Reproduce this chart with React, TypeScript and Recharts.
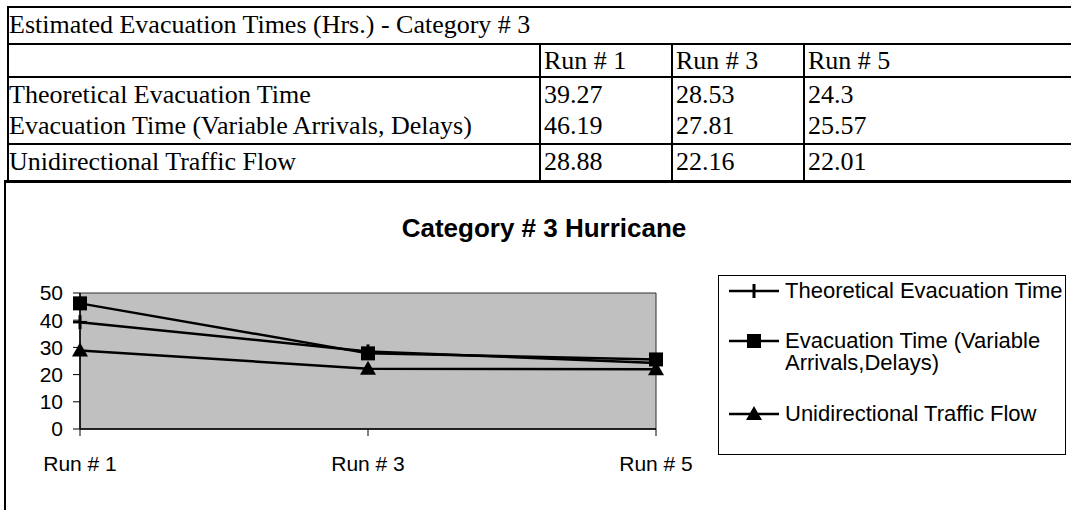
import React from "react";
import { LineChart, Line, XAxis, YAxis, ReferenceArea } from "recharts";

const runs = ["Run # 1", "Run # 3", "Run # 5"];
const theoretical = [39.27, 28.53, 24.3];
const variable = [46.19, 27.81, 25.57];
const unidirectional = [28.88, 22.16, 22.01];
const seriesNames = [
  "Theoretical Evacuation Time",
  "Evacuation Time (Variable Arrivals, Delays)",
  "Unidirectional Traffic Flow",
];
const legendNames = [
  "Theoretical Evacuation Time",
  "Evacuation Time (Variable Arrivals,Delays)",
  "Unidirectional Traffic Flow",
];
const tableTitle = "Estimated Evacuation Times (Hrs.) - Category # 3";
const chartTitle = "Category # 3 Hurricane";
const yTicks = [0, 10, 20, 30, 40, 50];

const data = runs.map((r, i) => ({
  run: r,
  theoretical: theoretical[i],
  variable: variable[i],
  unidirectional: unidirectional[i],
}));

const tableRows = [
  { name: seriesNames[0], vals: theoretical },
  { name: seriesNames[1], vals: variable },
  { name: seriesNames[2], vals: unidirectional },
];

const SERIF = "'Liberation Serif', 'Times New Roman', serif";
const SANS = "'Liberation Sans', Arial, sans-serif";

const PlusDot = (p: any) => {
  const { cx, cy } = p;
  if (cx == null || cy == null) return null;
  return (
    <g>
      <line x1={cx - 7} y1={cy} x2={cx + 7} y2={cy} stroke="#000" strokeWidth={2.5} />
      <line x1={cx} y1={cy - 7} x2={cx} y2={cy + 7} stroke="#000" strokeWidth={3} />
    </g>
  );
};
const SquareDot = (p: any) => {
  const { cx, cy } = p;
  if (cx == null || cy == null) return null;
  return <rect x={cx - 7} y={cy - 7} width={14} height={14} fill="#000" />;
};
const TriangleDot = (p: any) => {
  const { cx, cy } = p;
  if (cx == null || cy == null) return null;
  return (
    <polygon
      points={`${cx},${cy - 8} ${cx + 8},${cy + 6} ${cx - 8},${cy + 6}`}
      fill="#000"
    />
  );
};

const hLine = (top: number, left: number, width: number, h: number) => (
  <div style={{ position: "absolute", top, left, width, height: h, background: "#000" }} />
);
const vLine = (left: number, top: number, height: number, w: number) => (
  <div style={{ position: "absolute", top, left, width: w, height, background: "#000" }} />
);

const cellText = (text: string, left: number, centerY: number) => (
  <div
    style={{
      position: "absolute",
      left,
      top: centerY - 15,
      height: 30,
      lineHeight: "30px",
      fontFamily: SERIF,
      fontSize: 26,
      color: "#000",
      whiteSpace: "nowrap",
    }}
  >
    {text}
  </div>
);

const LegendMarker = ({ kind }: { kind: number }) => (
  <svg width={54} height={20} style={{ position: "absolute", left: 0, top: 1 }}>
    <line x1={2} y1={10} x2={52} y2={10} stroke="#000" strokeWidth={2.5} />
    {kind === 0 && <line x1={27} y1={3} x2={27} y2={17} stroke="#000" strokeWidth={3} />}
    {kind === 1 && <rect x={20} y={3} width={14} height={14} fill="#000" />}
    {kind === 2 && <polygon points="27,2 35,16 19,16" fill="#000" />}
  </svg>
);

export default function App() {
  const rowCenters = [61, 95, 126, 162];
  const colLeft = [544, 676, 808];
  return (
    <div
      style={{
        position: "absolute",
        left: 0,
        top: 0,
        width: 1071,
        height: 510,
        background: "#fff",
        overflow: "hidden",
      }}
    >
      {/* table grid */}
      {hLine(6, 7, 1064, 2)}
      {vLine(7, 6, 176, 2)}
      {hLine(43, 7, 1064, 2)}
      {hLine(76, 7, 1064, 2)}
      {hLine(143, 7, 1064, 2)}
      {hLine(180, 5, 1066, 3)}
      {vLine(539, 43, 138, 2)}
      {vLine(671, 43, 138, 2)}
      {vLine(803, 43, 138, 2)}
      {vLine(4, 180, 330, 2)}

      {cellText(tableTitle, 9, 25)}
      {runs.map((r, i) => (
        <React.Fragment key={r}>{cellText(r, colLeft[i], rowCenters[0])}</React.Fragment>
      ))}
      {tableRows.map((row, ri) => (
        <React.Fragment key={row.name}>
          {cellText(row.name, 9, rowCenters[ri + 1])}
          {row.vals.map((v, ci) => (
            <React.Fragment key={ci}>{cellText(String(v), colLeft[ci], rowCenters[ri + 1])}</React.Fragment>
          ))}
        </React.Fragment>
      ))}

      {/* chart title */}
      <div
        style={{
          position: "absolute",
          left: 300,
          width: 488,
          top: 213,
          textAlign: "center",
          fontFamily: SANS,
          fontWeight: "bold",
          fontSize: 26,
          lineHeight: "30px",
          color: "#000",
        }}
      >
        {chartTitle}
      </div>

      {/* chart */}
      <div style={{ position: "absolute", left: 0, top: 182 }}>
        <LineChart
          width={1071}
          height={328}
          data={data}
          margin={{ top: 111, right: 415, bottom: 21, left: 0 }}
        >
          <ReferenceArea
            x1={runs[0]}
            x2={runs[2]}
            y1={0}
            y2={50}
            fill="#C0C0C0"
            fillOpacity={1}
            stroke="#303030"
            strokeWidth={1}
          />
          <XAxis
            dataKey="run"
            interval={0}
            height={60}
            tickSize={7}
            tickMargin={20}
            axisLine={{ stroke: "#000", strokeWidth: 1.5 }}
            tickLine={{ stroke: "#000", strokeWidth: 1 }}
            tick={{ fill: "#000", fontSize: 21, fontFamily: SANS }}
          />
          <YAxis
            domain={[0, 50]}
            ticks={yTicks}
            interval={0}
            width={80}
            tickSize={7}
            tickMargin={10}
            axisLine={{ stroke: "#000", strokeWidth: 1.5 }}
            tickLine={{ stroke: "#000", strokeWidth: 1 }}
            tick={{ fill: "#000", fontSize: 21, fontFamily: SANS }}
          />
          <Line
            dataKey="theoretical"
            name={seriesNames[0]}
            stroke="#000"
            strokeWidth={2.5}
            dot={<PlusDot />}
            activeDot={false}
            isAnimationActive={false}
          />
          <Line
            dataKey="variable"
            name={seriesNames[1]}
            stroke="#000"
            strokeWidth={2.5}
            dot={<SquareDot />}
            activeDot={false}
            isAnimationActive={false}
          />
          <Line
            dataKey="unidirectional"
            name={seriesNames[2]}
            stroke="#000"
            strokeWidth={2.5}
            dot={<TriangleDot />}
            activeDot={false}
            isAnimationActive={false}
          />
        </LineChart>
      </div>

      {/* legend */}
      <div
        style={{
          position: "absolute",
          left: 718,
          top: 275,
          width: 348,
          height: 180,
          border: "1px solid #000",
          boxSizing: "border-box",
          fontFamily: SANS,
          fontSize: 22,
          color: "#000",
        }}
      >
        {[0, 1, 2].map((k) => {
          const tops = [4, 54, 127];
          return (
            <div key={k} style={{ position: "absolute", left: 8, top: tops[k], width: 338 }}>
              <LegendMarker kind={k} />
              <div style={{ marginLeft: 58, lineHeight: "22px", width: 278 }}>{legendNames[k]}</div>
            </div>
          );
        })}
      </div>
    </div>
  );
}
